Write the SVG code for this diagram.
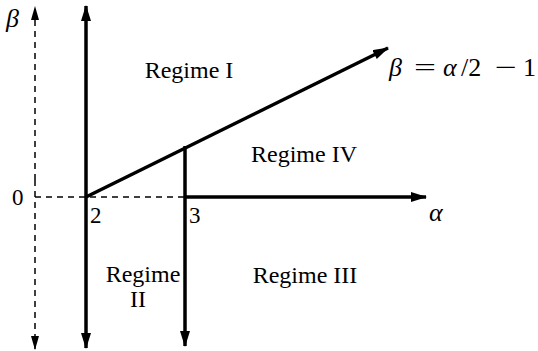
<svg xmlns="http://www.w3.org/2000/svg" width="538" height="351" viewBox="0 0 538 351">
<style>
.t{font-family:"Liberation Serif","Times New Roman",serif;font-size:24px;fill:#000;text-anchor:middle}
.m{font-family:"Liberation Serif","Times New Roman",serif;font-size:26px;font-style:italic;fill:#000}
.r{font-family:"Liberation Serif","Times New Roman",serif;font-size:26px;fill:#000}
.n{font-family:"Liberation Serif","Times New Roman",serif;font-size:23px;fill:#000}
.s{stroke:#000;stroke-width:3.5;fill:none}
.d{stroke:#000;stroke-width:1.5;fill:none;stroke-dasharray:6 5}
</style>
<defs>
<marker id="ah" markerUnits="userSpaceOnUse" markerWidth="16" markerHeight="12" refX="15" refY="5" orient="auto">
<path d="M0,0 L16,5 L0,10 Z" fill="#000"/>
</marker>
<marker id="ahd" markerUnits="userSpaceOnUse" markerWidth="14" markerHeight="10" refX="13" refY="4" orient="auto">
<path d="M0,0 L14,4 L0,8 Z" fill="#000"/>
</marker>
</defs>
<g id="connectors">
<line class="d" x1="35" y1="180" x2="35" y2="7" marker-end="url(#ahd)"/>
<line class="d" x1="35" y1="180" x2="35" y2="349" marker-end="url(#ahd)"/>
<line class="d" x1="35" y1="197" x2="185" y2="197"/>
<line class="s" x1="86" y1="197" x2="86" y2="6" marker-end="url(#ah)"/>
<line class="s" x1="86" y1="197" x2="86" y2="348" marker-end="url(#ah)"/>
<line class="s" x1="185" y1="146" x2="185" y2="346" marker-end="url(#ah)"/>
<line class="s" x1="184" y1="197" x2="426" y2="197" marker-end="url(#ah)"/>
<line class="s" x1="86" y1="197" x2="388" y2="48" marker-end="url(#ah)"/>
</g>
<g id="axis-labels">
<text class="m" x="6" y="27">β</text>
<text class="n" x="12" y="205">0</text>
<text class="n" x="90" y="223">2</text>
<text class="n" x="189" y="223">3</text>
<text class="m" x="429" y="221">α</text>
<text class="m" x="389" y="76">β</text>
<text class="r" x="414" y="76" textLength="22" lengthAdjust="spacingAndGlyphs">=</text>
<text class="m" x="443" y="76">α</text>
<text class="r" x="461" y="76">/2</text>
<text class="r" x="495" y="76" textLength="22" lengthAdjust="spacingAndGlyphs">−</text>
<text class="r" x="523" y="76">1</text>
</g>
<g id="regime-1"><text class="t" x="189" y="78">Regime I</text></g>
<g id="regime-4"><text class="t" x="304" y="162">Regime IV</text></g>
<g id="regime-3"><text class="t" x="305" y="283">Regime III</text></g>
<g id="regime-2"><text class="t" x="143" y="282">Regime</text><text class="t" x="138" y="307">II</text></g>
</svg>
